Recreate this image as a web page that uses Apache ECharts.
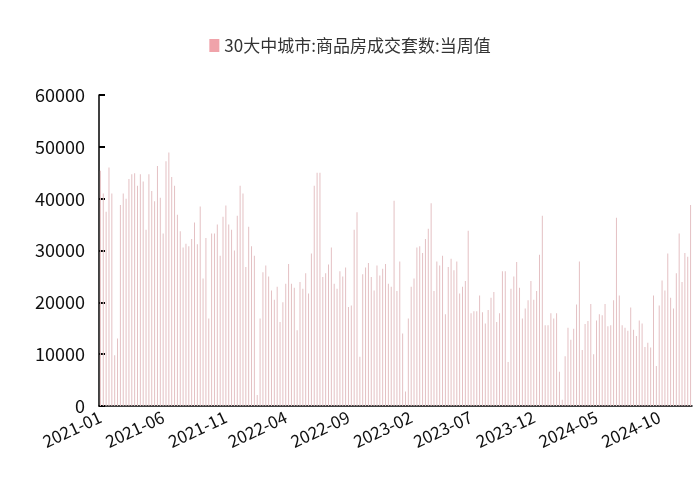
<!DOCTYPE html>
<html><head><meta charset="utf-8">
<script src="https://cdn.jsdelivr.net/npm/echarts@6/dist/echarts.min.js"></script>
<style>html,body{margin:0;padding:0;background:#fff}#c{width:700px;height:495px}</style>
</head><body><div id="c"></div>
<script>
// weekly deals (thousands of units)
const valuesK = [
  45.4, 41, 37.5, 46, 41, 9.8, 13, 38.8, 41, 40, 43.8, 44.7, 44.9, 42.5, 44.7, 43.3, 34, 44.7, 41.5, 39.5,
  46.3, 40.2, 33.3, 47.2, 48.9, 44.2, 42.5, 36.9, 33.7, 30.6, 31.3, 30.8, 32.2, 35.4, 31.2, 38.5, 24.6, 32.4,
  16.9, 33.3, 33.3, 35, 29, 36.5, 38.7, 35, 34, 30, 36.7, 42.5, 41, 26.8, 34.6, 30.8, 29, 2.1, 16.9, 25.8,
  27.1, 25, 22.3, 20.5, 23, 16.2, 20, 23.6, 27.4,
  23.6, 22.8, 14.6, 23.9, 22.6, 25.6, 21.7, 29.4, 42.5, 45, 45, 24.9, 25.6, 27.3, 30.6, 23.6, 22.6, 26, 25,
  26.7, 19.1, 19.4, 34, 37.4, 9.5, 25.4, 26.7, 27.6, 24.9, 22.3, 27.1, 25.2, 26.5, 27.4, 23.6, 23, 39.6, 22.2,
  27.9, 14, 2.8, 16.9, 23, 24.6, 30.6, 30.8, 29.5, 32.2, 34.2, 39.1, 22.2, 27.9, 27.1, 29, 17.7, 26.8, 28.4,
  26.2, 27.9, 21.7, 23, 24.1, 33.8, 17.9, 18.3, 18.3, 21.3, 18.1, 15.9, 18.5,
  20.9, 22, 16.2, 17.9, 26, 26, 8.5, 22.6, 25, 27.8, 22.8, 16.9, 18.8, 20.4, 24.1, 20.5, 22.2, 29.2, 36.7,
  15.6, 15.6, 17.9, 16.9, 17.9, 6.6, 1.2, 9.6, 15.1, 12.8, 14.9, 19.6, 27.9, 10.8, 15.8, 16.4, 19.7, 10, 16.5,
  17.7, 17.5, 19.7, 15.4, 15.6, 20.4, 36.3, 21.3, 15.6, 15.1, 14.5, 19, 14.7, 13.5, 16.5, 15.9, 11.4, 12.2,
  11.3, 21.3, 7.7, 19.4, 24.2, 22.3, 29.4, 20.9, 18.8, 25.6, 33.3, 23.9, 29.5, 28.8, 38.8
];
const values = valuesK.map(v => Math.round(v * 1000));
const weeks = [];
for (let i = 0; i < values.length; i++) {
  const d = new Date(Date.UTC(2021, 0, 3 + 7 * i));
  weeks.push(d.toISOString().slice(0, 10));
}
const seriesName = '30大中城市:商品房成交套数:当周值';

// label a week if it is the first week of every fifth month from 2021-01
function showWeek(i) {
  const d = weeks[i];
  if (Number(d.slice(8, 10)) > 7) return false;
  const m = (Number(d.slice(0, 4)) - 2021) * 12 + Number(d.slice(5, 7)) - 1;
  return m % 5 === 0;
}

const chart = echarts.init(document.getElementById('c'));
chart.setOption({
  animation: false,
  backgroundColor: '#ffffff',
  textStyle: { fontFamily: 'Noto Sans CJK SC, sans-serif' },
  legend: {
    top: 32, left: 'center',
    icon: 'rect', itemWidth: 10, itemHeight: 13,
    textStyle: { fontSize: 17, color: '#333' },
    data: [{ name: seriesName, itemStyle: { color: '#f0a3aa' } }]
  },
  grid: { left: 99, right: 8, top: 95, bottom: 89 },
  xAxis: {
    type: 'category',
    data: weeks,
    boundaryGap: true,
    axisLine: { lineStyle: { color: '#000', width: 1.5 } },
    axisTick: { inside: true, length: 6, interval: showWeek, alignWithLabel: true, lineStyle: { color: '#000', width: 2 } },
    axisLabel: {
      interval: showWeek, rotate: 25, fontSize: 17, color: '#111', margin: 10,
      formatter: v => v.slice(0, 7)
    }
  },
  yAxis: {
    type: 'value', min: 0, max: 60000, interval: 10000,
    splitLine: { show: false },
    axisLine: { show: true, lineStyle: { color: '#000', width: 1.5 } },
    axisTick: { show: true, inside: true, length: 6, lineStyle: { color: '#000', width: 2 } },
    axisLabel: { fontSize: 18, color: '#111', margin: 14, formatter: v => String(v) }
  },
  series: [{
    name: seriesName,
    type: 'bar',
    data: values,
    barWidth: '35%',
    itemStyle: { color: '#e4c0c3' }
  }]
});
</script></body></html>
